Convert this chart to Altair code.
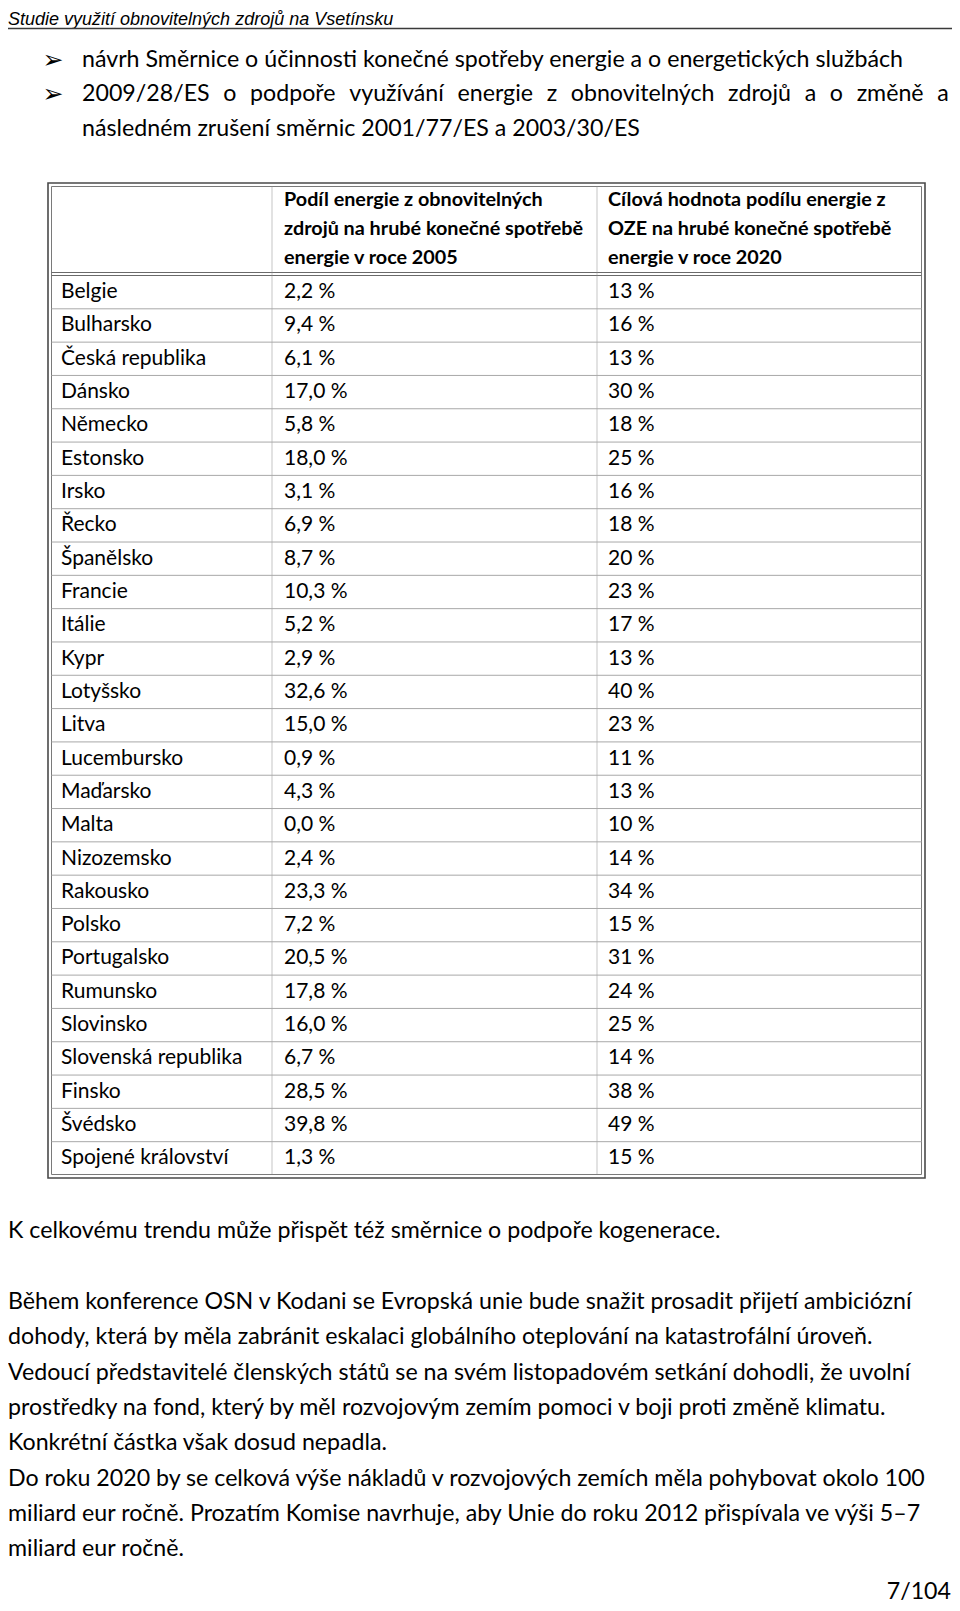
import altair as alt
import pandas as pd

# ---------------- data ----------------
countries = ["Belgie", "Bulharsko", "Česká republika", "Dánsko", "Německo", "Estonsko",
             "Irsko", "Řecko", "Španělsko", "Francie", "Itálie", "Kypr", "Lotyšsko",
             "Litva", "Lucembursko", "Maďarsko", "Malta", "Nizozemsko", "Rakousko",
             "Polsko", "Portugalsko", "Rumunsko", "Slovinsko", "Slovenská republika",
             "Finsko", "Švédsko", "Spojené království"]
share_2005 = [2.2, 9.4, 6.1, 17.0, 5.8, 18.0, 3.1, 6.9, 8.7, 10.3, 5.2, 2.9, 32.6,
              15.0, 0.9, 4.3, 0.0, 2.4, 23.3, 7.2, 20.5, 17.8, 16.0, 6.7, 28.5, 39.8, 1.3]
target_2020 = [13, 16, 13, 30, 18, 25, 16, 18, 20, 23, 17, 13, 40, 23, 11, 13, 10, 14,
               34, 15, 31, 24, 25, 14, 38, 49, 15]

header_2005 = ["Podíl energie z obnovitelných", "zdrojů na hrubé konečné spotřebě",
               "energie v roce 2005"]
header_2020 = ["Cílová hodnota podílu energie z", "OZE na hrubé konečné spotřebě",
               "energie v roce 2020"]

page_title = "Studie využití obnovitelných zdrojů na Vsetínsku"
bullet_lines = [
    "návrh Směrnice o účinnosti konečné spotřeby energie a o energetických službách",
    "2009/28/ES o podpoře využívání energie z obnovitelných zdrojů a o změně a",
    "následném zrušení směrnic 2001/77/ES a 2003/30/ES",
]
para1 = "K celkovému trendu může přispět též směrnice o podpoře kogenerace."
para2 = [
    "Během konference OSN v Kodani se Evropská unie bude snažit prosadit přijetí ambiciózní",
    "dohody, která by měla zabránit eskalaci globálního oteplování na katastrofální úroveň.",
    "Vedoucí představitelé členských států se na svém listopadovém setkání dohodli, že uvolní",
    "prostředky na fond, který by měl rozvojovým zemím pomoci v boji proti změně klimatu.",
    "Konkrétní částka však dosud nepadla.",
    "Do roku 2020 by se celková výše nákladů v rozvojových zemích měla pohybovat okolo 100",
    "miliard eur ročně. Prozatím Komise navrhuje, aby Unie do roku 2012 přispívala ve výši 5–7",
    "miliard eur ročně.",
]
page_number = "7/104"

# ---------------- tables built from the arrays ----------------
def fmt_2005(v):
    return f"{v:.1f}".replace(".", ",") + " %"

rows = pd.DataFrame({
    "country": countries,
    "v2005": [fmt_2005(v) for v in share_2005],
    "v2020": [f"{v} %" for v in target_2020],
    "idx": [i + 0.5 for i in range(len(countries))],
})
bounds = pd.DataFrame({"b": list(range(1, len(countries)))})
one = pd.DataFrame({"a": [0]})

FONT = "Lato"
BODY = 23.2
TABLE = 21
HEAD = 19.8
W, H = 944, 1595

yscale = alt.Scale(domain=[0, len(countries)], range=[267.5, 1167])

layers = []

def text_layer(txt, x, y, size, font=FONT, align="left", baseline="middle", **kw):
    return alt.Chart(one).mark_text(
        text=txt, align=align, baseline=baseline, font=font, fontSize=size,
        color="#000000", **kw
    ).encode(x=alt.value(x), y=alt.value(y))

# page header
layers.append(text_layer(page_title, 0, 16.5, 18, font="Liberation Sans", baseline="alphabetic",
                         fontStyle="italic"))
layers.append(alt.Chart(one).mark_rule(color="#3a3a3a", strokeWidth=1.5).encode(
    x=alt.value(0), x2=alt.value(W), y=alt.value(20.5)))

# bullets (second line is justified in the original)
bullet_y = [51.5, 85.5, 121]
for i, line in enumerate(bullet_lines):
    if i < 2:
        layers.append(text_layer("➢", 45, bullet_y[i], 25, font="DejaVu Sans", align="center"))
    txt = line.replace(" ", " \u2004") if i == 1 else line
    layers.append(text_layer(txt, 74, bullet_y[i], BODY))

# table frame
layers.append(alt.Chart(one).mark_rect(fillOpacity=0, stroke="#4a4a4a", strokeWidth=1.6).encode(
    x=alt.value(40), x2=alt.value(917), y=alt.value(175), y2=alt.value(1170)))
layers.append(alt.Chart(one).mark_rect(fillOpacity=0, stroke="#7a7a7a", strokeWidth=1).encode(
    x=alt.value(43.5), x2=alt.value(913.5), y=alt.value(178.5), y2=alt.value(1166.5)))
# header double line
for yy in (264.5, 267.5):
    layers.append(alt.Chart(one).mark_rule(color="#6a6a6a", strokeWidth=1).encode(
        x=alt.value(43.5), x2=alt.value(913.5), y=alt.value(yy)))
# vertical dotted dividers
for xx in (264, 589):
    layers.append(alt.Chart(one).mark_rule(color="#8a8a8a", strokeWidth=1, strokeDash=[1, 1]).encode(
        x=alt.value(xx), y=alt.value(178.5), y2=alt.value(1166.5)))

# row separators
layers.append(alt.Chart(bounds).mark_rule(color="#a8a8a8", strokeWidth=1).encode(
    x=alt.value(43.5), x2=alt.value(913.5),
    y=alt.Y("b:Q", scale=yscale, axis=None)))

# header text
for i in range(3):
    yy = 191.5 + i * 29
    layers.append(text_layer(header_2005[i], 276, yy, HEAD, fontWeight="bold"))
    layers.append(text_layer(header_2020[i], 600, yy, HEAD, fontWeight="bold"))

# table cells
base_rows = alt.Chart(rows)
for col, xx in (("country", 53), ("v2005", 276), ("v2020", 600)):
    layers.append(base_rows.mark_text(align="left", baseline="middle", font=FONT,
                                      fontSize=TABLE, color="#000000").encode(
        x=alt.value(xx), y=alt.Y("idx:Q", scale=yscale, axis=None), text=f"{col}:N"))

# body text
layers.append(text_layer(para1, 0, 1223, BODY))
for i, line in enumerate(para2):
    layers.append(text_layer(line, 0, 1294 + i * 35.3, BODY))
layers.append(text_layer(page_number, 943, 1584, BODY, align="right"))

chart = alt.layer(*layers).properties(
    width=W, height=H, padding=0, autosize=alt.AutoSizeParams(type="none"),
    background="white"
).configure_view(stroke=None)

chart.save("out.html", embed_options={"renderer": "svg", "actions": False})
